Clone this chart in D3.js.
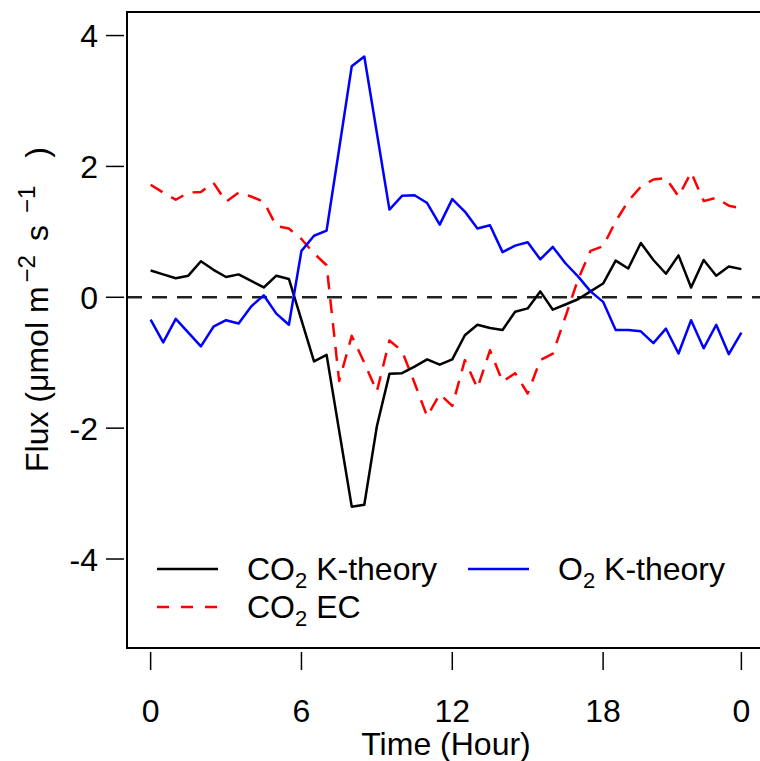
<!DOCTYPE html>
<html>
<head>
<meta charset="utf-8">
<script src="https://cdn.jsdelivr.net/npm/d3@7"></script>
<style>
  html, body { margin: 0; padding: 0; background: #fff; }
  svg { display: block; font-family: "Liberation Sans", Arial, Helvetica, sans-serif; }
</style>
</head>
<body>
<svg id="chart" width="760" height="761"></svg>
<script>
// Half-hourly time steps over one day
const hours = [0, 0.5, 1, 1.5, 2, 2.5, 3, 3.5, 4, 4.5, 5, 5.5,
  6, 6.5, 7, 7.5, 8, 8.5, 9, 9.5, 10, 10.5, 11, 11.5,
  12, 12.5, 13, 13.5, 14, 14.5, 15, 15.5, 16, 16.5, 17, 17.5,
  18, 18.5, 19, 19.5, 20, 20.5, 21, 21.5, 22, 22.5, 23, 23.5];

// CO2 flux from K-theory
const co2K = [0.41, 0.35, 0.29, 0.33, 0.55, 0.42, 0.31, 0.35, 0.25, 0.15, 0.33, 0.28,
  -0.35, -0.98, -0.88, -2.04, -3.20, -3.17, -1.97, -1.17, -1.16, -1.06, -0.95, -1.03,
  -0.95, -0.58, -0.42, -0.47, -0.50, -0.22, -0.17, 0.09, -0.19, -0.11, -0.03, 0.09,
  0.21, 0.56, 0.44, 0.83, 0.57, 0.36, 0.64, 0.15, 0.57, 0.33, 0.47, 0.43];

// CO2 flux from eddy covariance
const co2EC = [1.72, 1.60, 1.49, 1.60, 1.61, 1.75, 1.46, 1.60, 1.54, 1.46, 1.09, 1.05,
  0.89, 0.67, 0.49, -1.28, -0.59, -1.00, -1.44, -0.66, -0.82, -1.31, -1.82, -1.48,
  -1.66, -0.96, -1.39, -0.81, -1.29, -1.16, -1.47, -0.96, -0.86, -0.30, 0.27, 0.71,
  0.78, 1.16, 1.47, 1.69, 1.80, 1.82, 1.54, 1.91, 1.47, 1.52, 1.40, 1.36];

// O2 flux from K-theory
const o2K = [-0.34, -0.69, -0.33, -0.54, -0.75, -0.45, -0.35, -0.40, -0.14, 0.03, -0.25, -0.42,
  0.71, 0.94, 1.02, 2.27, 3.53, 3.68, 2.51, 1.34, 1.55, 1.56, 1.44, 1.11,
  1.50, 1.31, 1.05, 1.10, 0.69, 0.79, 0.84, 0.58, 0.77, 0.52, 0.32, 0.09,
  -0.07, -0.50, -0.50, -0.52, -0.70, -0.48, -0.86, -0.35, -0.78, -0.42, -0.87, -0.54];

// Axis ticks and their labels
const xTicks = [0, 6, 12, 18, 23.5];
const xTickLabels = ["0", "6", "12", "18", "0"];
const yTicks = [-4, -2, 0, 2, 4];
const yTickLabels = ["-4", "-2", "0", "2", "4"];

const series = [
  { name: "CO2 K-theory", values: co2K, color: "#000000", dash: null },
  { name: "CO2 EC", values: co2EC, color: "#ff0000", dash: "14,10" },
  { name: "O2 K-theory", values: o2K, color: "#0000ff", dash: null }
];

const svg = d3.select("#chart");
const plot = { left: 127, right: 765, top: 12, bottom: 648 };
const fontSize = 32;
const subSize = 22;

const x = d3.scaleLinear().domain([-0.94, 24.44]).range([plot.left, plot.right]);
const y = d3.scaleLinear().domain([-5.36, 4.36]).range([plot.bottom, plot.top]);

// Zero reference line
svg.append("line")
  .attr("x1", plot.left).attr("x2", plot.right)
  .attr("y1", y(0)).attr("y2", y(0))
  .attr("stroke", "#222").attr("stroke-width", 2.5)
  .attr("stroke-dasharray", "15,10");

// Data lines
const line = d3.line()
  .x((d, i) => x(hours[i]))
  .y(d => y(d));

const drawOrder = [series[1], series[0], series[2]];
drawOrder.forEach(s => {
  svg.append("path")
    .datum(s.values)
    .attr("d", line)
    .attr("fill", "none")
    .attr("stroke", s.color)
    .attr("stroke-width", 2.5)
    .attr("stroke-linejoin", "round")
    .attr("stroke-dasharray", s.dash);
});

// Plot box
svg.append("rect")
  .attr("x", plot.left).attr("y", plot.top)
  .attr("width", plot.right - plot.left).attr("height", plot.bottom - plot.top)
  .attr("fill", "none").attr("stroke", "#000").attr("stroke-width", 2);

// X axis ticks (drawn just below the box)
const xAxis = svg.append("g");
xTicks.forEach((t, i) => {
  xAxis.append("line")
    .attr("x1", x(t)).attr("x2", x(t))
    .attr("y1", plot.bottom + 4).attr("y2", plot.bottom + 22)
    .attr("stroke", "#000").attr("stroke-width", 1.5);
  xAxis.append("text")
    .attr("x", x(t)).attr("y", 722)
    .attr("text-anchor", "middle")
    .attr("font-size", fontSize)
    .text(xTickLabels[i]);
});

// Y axis ticks
const yAxis = svg.append("g");
yTicks.forEach((t, i) => {
  yAxis.append("line")
    .attr("x1", plot.left - 21).attr("x2", plot.left - 3)
    .attr("y1", y(t)).attr("y2", y(t))
    .attr("stroke", "#000").attr("stroke-width", 1.5);
  yAxis.append("text")
    .attr("x", 98).attr("y", y(t))
    .attr("dy", "0.36em")
    .attr("text-anchor", "end")
    .attr("font-size", fontSize)
    .text(yTickLabels[i]);
});

// Axis titles
svg.append("text")
  .attr("x", (plot.left + plot.right) / 2).attr("y", 755)
  .attr("text-anchor", "middle")
  .attr("font-size", fontSize)
  .text("Time (Hour)");

const yTitle = svg.append("text")
  .attr("transform", "translate(48,472) rotate(-90)")
  .attr("text-anchor", "start")
  .attr("font-size", fontSize);
yTitle.append("tspan").text("Flux (μmol m");
yTitle.append("tspan").attr("dx", 4).attr("dy", -13).attr("font-size", 24).text("−2");
yTitle.append("tspan").attr("dx", 14).attr("dy", 13).text("s");
yTitle.append("tspan").attr("dx", 12).attr("dy", -13).attr("font-size", 24).text("−1");
yTitle.append("tspan").attr("dx", 28).attr("dy", 13).text(")");

// Legend
const legendItems = [
  { s: series[0], lx: 157, ty: 569, main: "CO", sub: "2", rest: " K-theory" },
  { s: series[2], lx: 468, ty: 569, main: "O", sub: "2", rest: " K-theory" },
  { s: series[1], lx: 157, ty: 607, main: "CO", sub: "2", rest: " EC" }
];
const legend = svg.append("g");
legendItems.forEach(item => {
  legend.append("line")
    .attr("x1", item.lx).attr("x2", item.lx + 61)
    .attr("y1", item.ty).attr("y2", item.ty)
    .attr("stroke", item.s.color).attr("stroke-width", 2.5)
    .attr("stroke-dasharray", item.s.dash ? "12,12" : null);
  const t = legend.append("text")
    .attr("x", item.lx + 90).attr("y", item.ty + 11)
    .attr("font-size", fontSize);
  t.append("tspan").text(item.main);
  t.append("tspan").attr("dy", 8).attr("font-size", subSize).text(item.sub);
  t.append("tspan").attr("dy", -8).text(item.rest);
});
</script>
</body>
</html>
